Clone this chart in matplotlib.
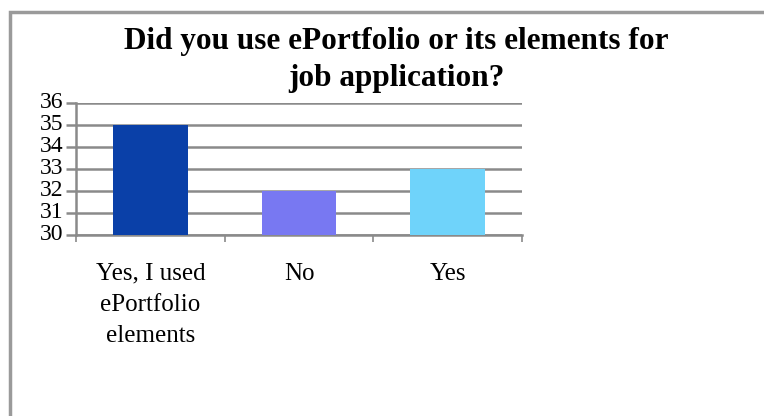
import matplotlib
matplotlib.use('Agg')
import matplotlib.pyplot as plt
from matplotlib.patches import Rectangle

TITLE = 'Did you use ePortfolio or its elements for\njob application?'
CATEGORIES = ['Yes, I used\nePortfolio\nelements', 'No', 'Yes']
VALUES = [35, 32, 33]
COLORS = ['#0a40a8', '#7878f2', '#6fd3fa']
Y_TICKS = [30, 31, 32, 33, 34, 35, 36]

GRAY = '#8a8a8a'


def main():
    plt.rcParams['font.family'] = ['Liberation Serif', 'DejaVu Serif']
    fig = plt.figure(figsize=(7.64, 4.16), dpi=100)

    # outer frame of the chart object
    fig.patches.append(Rectangle((10 / 764, -0.05), 1.0, 1 - 12 / 416 + 0.05,
                                 transform=fig.transFigure, fill=False,
                                 edgecolor='#9a9a9a', linewidth=2.5))

    ax = fig.add_axes([76 / 764, 1 - 235 / 416, (522 - 76) / 764, (235 - 103) / 416])
    x = list(range(len(CATEGORIES)))
    ax.bar(x, VALUES, width=0.5, color=COLORS, zorder=3)

    ax.set_ylim(30, 36)
    ax.set_xlim(-0.5, len(CATEGORIES) - 0.5)
    ax.set_yticks(Y_TICKS)
    ax.yaxis.grid(True, color=GRAY, linewidth=1.8, zorder=0)

    ax.set_xticks(x)
    ax.set_xticklabels(CATEGORIES, fontsize=18, linespacing=1.55, va='top')
    ax.tick_params(axis='x', which='major', length=0, pad=20)
    ax.set_xticks([i - 0.5 for i in range(len(CATEGORIES) + 1)], minor=True)
    ax.tick_params(axis='x', which='minor', length=5, width=1.2, color=GRAY)

    ax.tick_params(axis='y', labelsize=17, length=7, width=1.8, color=GRAY, pad=2)
    for lbl in ax.get_yticklabels():
        lbl.set_va('center')

    for side in ('top', 'right'):
        ax.spines[side].set_visible(False)
    for side in ('left', 'bottom'):
        ax.spines[side].set_color(GRAY)
        ax.spines[side].set_linewidth(1.8)

    fig.text(396 / 764, 1 - 60 / 416, TITLE, ha='center', va='center',
             fontsize=22.5, fontweight='bold', linespacing=1.4)

    fig.savefig('out.png', dpi=100)


if __name__ == '__main__':
    main()
